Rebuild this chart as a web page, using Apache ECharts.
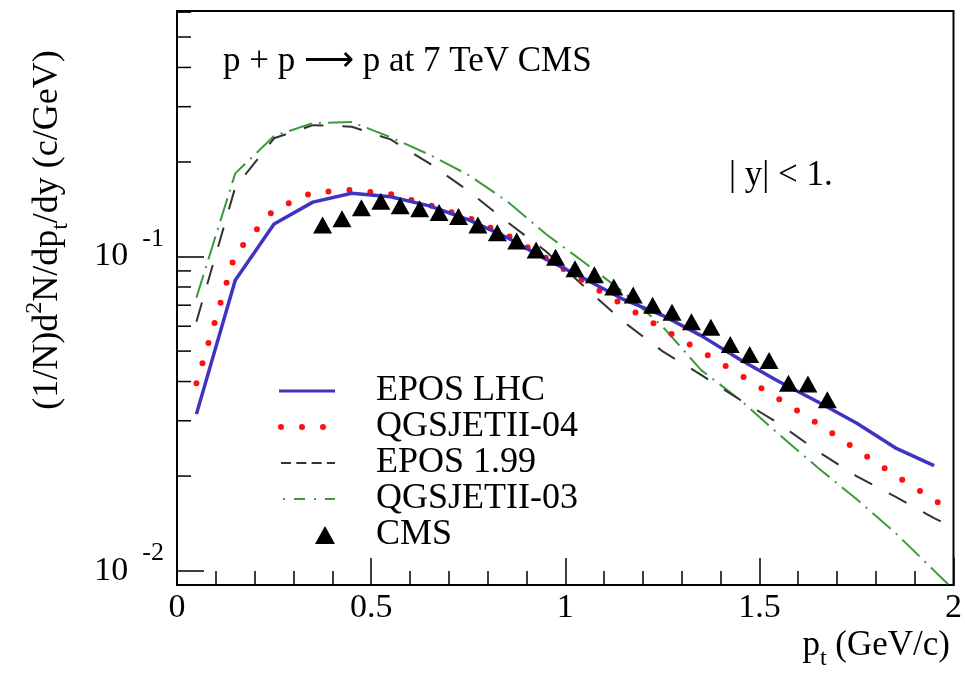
<!DOCTYPE html>
<html>
<head>
<meta charset="utf-8">
<script src="https://cdn.jsdelivr.net/npm/echarts@6/dist/echarts.min.js"></script>
<style>
  html, body { margin: 0; padding: 0; background: #fff; }
  #main { width: 965px; height: 680px; }
</style>
</head>
<body>
<div id="main"></div>
<script>
// model curves: pt grid (GeV/c)
var ptModel = [0.05, 0.15, 0.25, 0.35, 0.45, 0.55, 0.65, 0.75, 0.85, 0.95,
               1.05, 1.15, 1.25, 1.35, 1.45, 1.55, 1.65, 1.75, 1.85, 1.95, 2.0];
var eposLhc   = [0.0315, 0.084, 0.127, 0.149, 0.159, 0.155, 0.145, 0.131, 0.115, 0.098,
                 0.085, 0.073, 0.065, 0.056, 0.047, 0.040, 0.0345, 0.0295, 0.0246, 0.0216];
var qgsjet04  = [0.0395, 0.102, 0.141, 0.160, 0.163, 0.158, 0.146, 0.133, 0.117, 0.099,
                 0.083, 0.070, 0.059, 0.050, 0.042, 0.0352, 0.0294, 0.0243, 0.0201, 0.0168, 0.0153];
var epos199   = [0.062, 0.166, 0.238, 0.262, 0.259, 0.236, 0.198, 0.162, 0.129, 0.104,
                 0.080, 0.062, 0.050, 0.042, 0.035, 0.0294, 0.0240, 0.0200, 0.0172, 0.0147, 0.0137];
var qgsjet03  = [0.074, 0.184, 0.242, 0.266, 0.268, 0.240, 0.211, 0.182, 0.150, 0.118,
                 0.0955, 0.077, 0.060, 0.0435, 0.035, 0.0272, 0.0213, 0.0169, 0.0132, 0.0100, 0.0087];

// CMS data points
var cmsPt  = [0.375, 0.425, 0.475, 0.525, 0.575, 0.625, 0.675, 0.725, 0.775, 0.825,
              0.875, 0.925, 0.975, 1.025, 1.075, 1.125, 1.175, 1.225, 1.275, 1.325,
              1.375, 1.425, 1.475, 1.525, 1.575, 1.625, 1.675];
var cmsVal = [0.126, 0.132, 0.143, 0.150, 0.145, 0.142, 0.138, 0.134, 0.126, 0.119,
              0.112, 0.105, 0.0995, 0.0915, 0.0875, 0.080, 0.0755, 0.070, 0.0665, 0.062,
              0.0596, 0.0525, 0.0488, 0.0467, 0.0395, 0.0393, 0.0350];

// axis ticks
var yMajorTicks = [0.01, 0.1];
var yMajorExp = ['-2', '-1'];
var yMinorTicks = [0.02, 0.03, 0.04, 0.05, 0.06, 0.07, 0.08, 0.09,
                   0.2, 0.3, 0.4, 0.5, 0.6];

var FONT = 'Liberation Serif';
var noSymbol = { color: 'transparent', borderWidth: 0, opacity: 0 };

function pairs(xs, ys) {
  var out = [];
  for (var i = 0; i < ys.length; i++) out.push([xs[i], ys[i]]);
  return out;
}

var chart = echarts.init(document.getElementById('main'));

var option = {
  animation: false,
  backgroundColor: '#fff',
  grid: {
    left: 177, right: 9, top: 11, bottom: 95,
    show: true, borderColor: '#000', borderWidth: 2, backgroundColor: 'transparent'
  },
  xAxis: {
    type: 'value', min: 0, max: 2, interval: 0.5,
    axisLine: { show: true, onZero: false, lineStyle: { color: '#000', width: 2 } },
    axisTick: { show: true, inside: true, length: 27, lineStyle: { color: '#000', width: 1.5 } },
    minorTick: { show: true, splitNumber: 5, length: 14, lineStyle: { color: '#000', width: 1.5 } },
    splitLine: { show: false },
    axisLabel: { color: '#000', fontFamily: FONT, fontSize: 34, margin: 6 }
  },
  yAxis: {
    type: 'log', logBase: 10, min: 0.009, max: 0.605,
    axisLine: { show: true, lineStyle: { color: '#000', width: 2 } },
    axisTick: { show: true, inside: true, length: 27, lineStyle: { color: '#000', width: 1.5 } },
    splitLine: { show: false },
    axisLabel: {
      margin: 13,
      showMinLabel: false, showMaxLabel: false,
      formatter: function (v) {
        for (var i = 0; i < yMajorTicks.length; i++) {
          if (Math.abs(v - yMajorTicks[i]) / yMajorTicks[i] < 1e-6) {
            return '{n|10}{s|' + yMajorExp[i] + '}';
          }
        }
        return '';
      },
      rich: {
        n: { fontFamily: FONT, fontSize: 34, color: '#000', lineHeight: 60 },
        s: { fontFamily: FONT, fontSize: 26, color: '#000', lineHeight: 8, verticalAlign: 'top', padding: [0, 0, 0, 14] }
      }
    }
  },
  legend: {
    orient: 'vertical', left: 276, top: 373, padding: 0, itemGap: 0,
    itemWidth: 56, itemHeight: 20,
    textStyle: { fontFamily: FONT, fontSize: 36, color: '#000', lineHeight: 34.5, padding: [0, 0, 0, 36] },
    data: [
      { name: 'EPOS LHC', itemStyle: noSymbol, lineStyle: { width: 3, type: 'solid' } },
      { name: 'QGSJETII-04', itemStyle: noSymbol, lineStyle: { width: 6, type: [0, 21], cap: 'round', dashOffset: -2 } },
      { name: 'EPOS 1.99', itemStyle: noSymbol, lineStyle: { width: 2, type: [10, 5.3] } },
      { name: 'QGSJETII-03', itemStyle: noSymbol, lineStyle: { width: 2, type: [2, 9, 11, 9], dashOffset: -4 } },
      { name: 'CMS', icon: 'path://M0,18L0,18M46,0L56,18L36,18Z', itemStyle: { color: '#000', opacity: 1 } }
    ]
  },
  graphic: [
    {
      type: 'text', x: 223, y: 62,
      style: { text: 'p + p \u27F6 p at 7 TeV CMS', fontFamily: FONT, fontSize: 35, fill: '#000',
               align: 'left', verticalAlign: 'middle' }
    },
    {
      type: 'text', x: 729, y: 176,
      style: { text: '| y| < 1.', fontFamily: FONT, fontSize: 35, fill: '#000',
               align: 'left', verticalAlign: 'middle' }
    },
    {
      type: 'text', x: 48, y: 230, rotation: Math.PI / 2,
      style: {
        text: '(1/N)d{sup|2}N/dp{sub|t}/dy (c/GeV)',
        fontFamily: FONT, fontSize: 36, fill: '#000', lineHeight: 50,
        align: 'center', verticalAlign: 'middle',
        rich: {
          sup: { fontFamily: FONT, fontSize: 24, fill: '#000', lineHeight: 26, verticalAlign: 'top' },
          sub: { fontFamily: FONT, fontSize: 24, fill: '#000', lineHeight: 26, verticalAlign: 'bottom' }
        }
      }
    },
    {
      type: 'text', x: 950, y: 646,
      style: {
        text: 'p{sub|t} (GeV/c)',
        fontFamily: FONT, fontSize: 35, fill: '#000', lineHeight: 50,
        align: 'right', verticalAlign: 'middle',
        rich: {
          sub: { fontFamily: FONT, fontSize: 24, fill: '#000', lineHeight: 26, verticalAlign: 'bottom' }
        }
      }
    }
  ],
  series: [
    {
      name: 'QGSJETII-03', type: 'line', symbol: 'none', z: 2,
      data: pairs(ptModel, qgsjet03),
      lineStyle: { color: '#3c9a3c', width: 2, type: [24, 7, 2, 7] },
      itemStyle: { color: '#3c9a3c' }
    },
    {
      name: 'EPOS 1.99', type: 'line', symbol: 'none', z: 3,
      data: pairs(ptModel, epos199),
      lineStyle: { color: '#333', width: 2, type: [20, 19] },
      itemStyle: { color: '#333' }
    },
    {
      name: 'QGSJETII-04', type: 'line', symbol: 'none', z: 4,
      data: pairs(ptModel, qgsjet04),
      lineStyle: { color: '#ff1010', width: 6, type: [0, 21], cap: 'round' },
      itemStyle: { color: '#ff1010' }
    },
    {
      name: 'EPOS LHC', type: 'line', symbol: 'none', z: 5,
      data: pairs(ptModel, eposLhc),
      lineStyle: { color: '#3f33c2', width: 3.5 },
      itemStyle: { color: '#3f33c2' }
    },
    {
      name: 'CMS', type: 'scatter', symbol: 'triangle', symbolSize: [19, 17], z: 6,
      data: pairs(cmsPt, cmsVal),
      itemStyle: { color: '#000', opacity: 1 }
    },
    {
      name: 'yMinor', type: 'custom', z: 7, silent: true,
      data: yMinorTicks.map(function (v) { return [0, v]; }),
      renderItem: function (params, api) {
        var p = api.coord([0, api.value(1)]);
        return {
          type: 'line',
          shape: { x1: p[0], y1: p[1], x2: p[0] + 14, y2: p[1] },
          style: { stroke: '#000', lineWidth: 1.5 }
        };
      }
    }
  ]
};

chart.setOption(option);
</script>
</body>
</html>
